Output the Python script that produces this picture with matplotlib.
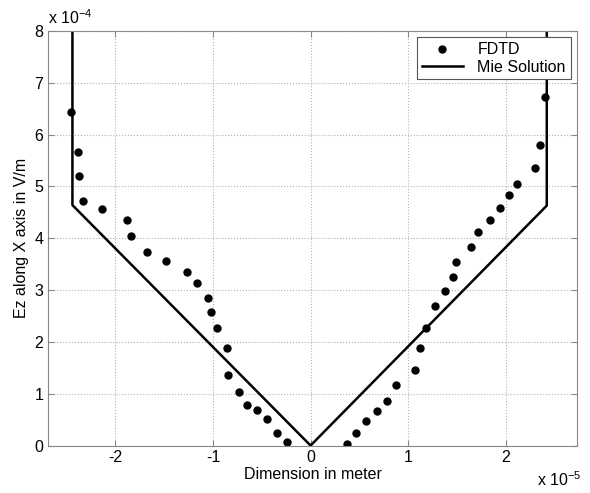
import matplotlib.pyplot as plt
import numpy as np

plt.rcParams['font.family'] = ['Liberation Sans', 'DejaVu Sans']
plt.rcParams['axes.unicode_minus'] = False
plt.rcParams['mathtext.fontset'] = 'custom'
plt.rcParams['mathtext.rm'] = 'Liberation Sans'

# FDTD samples (x in 1e-5 m, Ez in 1e-4 V/m)
fdtd_x = [-2.45, -2.38, -2.37, -2.33, -2.14, -1.88, -1.84, -1.68, -1.48, -1.27,
          -1.16, -1.05, -1.02, -0.96, -0.86, -0.85, -0.73, -0.65, -0.55, -0.45,
          -0.34, -0.24,
          0.37, 0.47, 0.57, 0.68, 0.78, 0.88, 1.07, 1.12, 1.18, 1.27, 1.38,
          1.46, 1.49, 1.64, 1.72, 1.84, 1.94, 2.03, 2.12, 2.30, 2.35, 2.40]
fdtd_y = [6.44, 5.67, 5.20, 4.72, 4.57, 4.36, 4.05, 3.74, 3.56, 3.34,
          3.14, 2.84, 2.58, 2.27, 1.88, 1.37, 1.03, 0.78, 0.68, 0.51,
          0.25, 0.07,
          0.03, 0.25, 0.48, 0.66, 0.86, 1.16, 1.46, 1.89, 2.27, 2.70, 2.98,
          3.25, 3.54, 3.83, 4.12, 4.35, 4.59, 4.83, 5.04, 5.35, 5.80, 6.72]

# Mie solution polyline
mie_x = [-2.44, -2.44, 0.0, 2.42, 2.42]
mie_y = [8.2, 4.64, 0.0, 4.63, 8.2]

fig = plt.figure(figsize=(5.9, 4.93), dpi=100)
ax = fig.add_axes([0.0814, 0.0963, 0.8966, 0.8408])

ax.plot(fdtd_x, fdtd_y, 'o', color='black', markersize=5, label='FDTD')
ax.plot(mie_x, mie_y, '-', color='black', linewidth=1.8, label='Mie Solution')

ax.set_xlim(-2.69, 2.73)
ax.set_ylim(0, 8)
ax.set_xticks([-2, -1, 0, 1, 2])
ax.set_yticks(range(0, 9))
ax.grid(True, linestyle=':', color='#b0b0b0', linewidth=0.8)
ax.tick_params(direction='in', top=True, right=True, labelsize=11.5,
               color='#888888', length=4)
for s in ax.spines.values():
    s.set_color('#888888')

ax.set_xlabel('Dimension in meter', fontsize=11.5, labelpad=1)
ax.set_ylabel('Ez along X axis in V/m', fontsize=11.5, labelpad=4)

fig.text(0.081, 0.945, 'x 10$^{-4}$', fontsize=11.5, ha='left', va='bottom')
fig.text(0.985, 0.008, 'x 10$^{-5}$', fontsize=11.5, ha='right', va='bottom')

leg = ax.legend(loc='upper right', fontsize=11.5, fancybox=False, framealpha=1,
                edgecolor='#555555', borderaxespad=0.4, handlelength=2.6,
                borderpad=0.3, labelspacing=0.15, handletextpad=0.9)
leg.get_frame().set_linewidth(0.8)

fig.savefig('out.png', dpi=100)
